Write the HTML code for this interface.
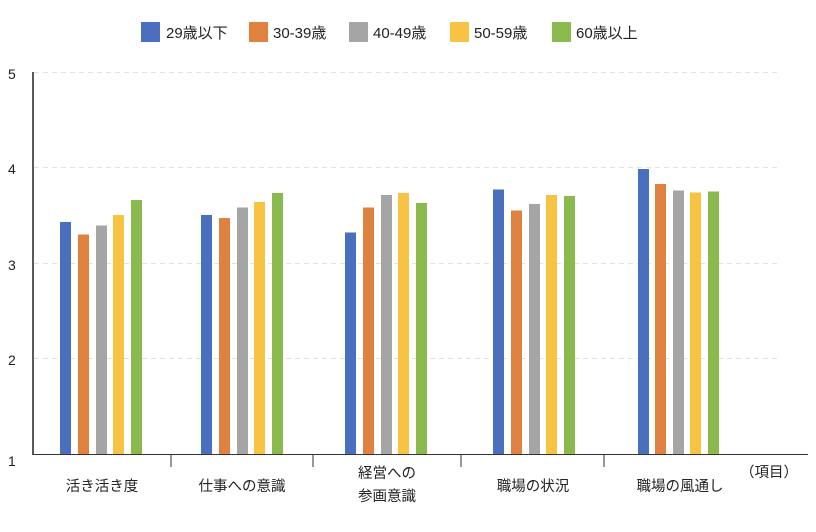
<!DOCTYPE html>
<html><head><meta charset="utf-8"><style>
body{margin:0;background:#fff;}
svg text{font-family:"Liberation Sans","Noto Sans CJK JP",sans-serif;fill:#222;}
</style></head><body>
<svg width="816" height="527" viewBox="0 0 816 527" xmlns="http://www.w3.org/2000/svg">
<g stroke="#dde3e3" stroke-dasharray="5,4" stroke-width="1">
<line x1="34" y1="72.5" x2="780" y2="72.5"/>
<line x1="34" y1="167.5" x2="780" y2="167.5"/>
<line x1="34" y1="263.5" x2="780" y2="263.5"/>
<line x1="34" y1="358.5" x2="780" y2="358.5"/>
</g>
<g font-size="14">
<text x="8" y="79">5</text><text x="8" y="174">4</text><text x="8" y="270">3</text><text x="8" y="365">2</text><text x="8" y="466">1</text>
</g>
<g id="bars">
<!-- g1 -->
<rect x="60" y="222" width="11" height="232" fill="#4a6fbe"/>
<rect x="78" y="234.5" width="11" height="219.5" fill="#e0823f"/>
<rect x="96" y="225.5" width="11" height="228.5" fill="#a5a5a5"/>
<rect x="113" y="215" width="11" height="239" fill="#f6c342"/>
<rect x="131" y="200" width="11" height="254" fill="#8ab94e"/>
<!-- g2 -->
<rect x="201" y="215" width="11" height="239" fill="#4a6fbe"/>
<rect x="219" y="218" width="11" height="236" fill="#e0823f"/>
<rect x="237" y="207.5" width="11" height="246.5" fill="#a5a5a5"/>
<rect x="254" y="202" width="11" height="252" fill="#f6c342"/>
<rect x="272" y="193" width="11" height="261" fill="#8ab94e"/>
<!-- g3 -->
<rect x="345" y="232.5" width="11" height="221.5" fill="#4a6fbe"/>
<rect x="363" y="207.5" width="11" height="246.5" fill="#e0823f"/>
<rect x="381" y="195" width="11" height="259" fill="#a5a5a5"/>
<rect x="398" y="193" width="11" height="261" fill="#f6c342"/>
<rect x="416" y="203" width="11" height="251" fill="#8ab94e"/>
<!-- g4 -->
<rect x="493" y="189.5" width="11" height="264.5" fill="#4a6fbe"/>
<rect x="511" y="210.5" width="11" height="243.5" fill="#e0823f"/>
<rect x="529" y="204" width="11" height="250" fill="#a5a5a5"/>
<rect x="546" y="195" width="11" height="259" fill="#f6c342"/>
<rect x="564" y="196" width="11" height="258" fill="#8ab94e"/>
<!-- g5 -->
<rect x="638" y="169" width="11" height="285" fill="#4a6fbe"/>
<rect x="655" y="184" width="11" height="270" fill="#e0823f"/>
<rect x="673" y="190.5" width="11" height="263.5" fill="#a5a5a5"/>
<rect x="690" y="192.5" width="11" height="261.5" fill="#f6c342"/>
<rect x="708" y="191.5" width="11" height="262.5" fill="#8ab94e"/>
</g>
<line x1="33" y1="72" x2="33" y2="455" stroke="#222" stroke-width="1.5"/>
<line x1="33" y1="454.5" x2="808" y2="454.5" stroke="#333" stroke-width="1"/>
<g stroke="#333">
<line x1="171" y1="454" x2="171" y2="467"/><line x1="313" y1="454" x2="313" y2="467"/>
<line x1="461" y1="454" x2="461" y2="467"/><line x1="604" y1="454" x2="604" y2="467"/>
</g>
<g font-size="14.5" text-anchor="middle">
<text x="102" y="491">活き活き度</text>
<text x="242" y="491">仕事への意識</text>
<text x="387" y="478">経営への</text>
<text x="387" y="501">参画意識</text>
<text x="533" y="491">職場の状況</text>
<text x="680" y="491">職場の風通し</text>
<text x="769" y="477">（項目）</text>
</g>
<g font-size="15">
<rect x="141" y="22" width="19" height="20" fill="#4a6fbe"/><text x="166" y="38">29歳以下</text>
<rect x="249" y="22" width="19" height="20" fill="#e0823f"/><text x="273" y="38">30-39歳</text>
<rect x="349" y="22" width="19" height="20" fill="#a5a5a5"/><text x="373" y="38">40-49歳</text>
<rect x="450" y="22" width="19" height="20" fill="#f6c342"/><text x="474" y="38">50-59歳</text>
<rect x="552" y="22" width="19" height="20" fill="#8ab94e"/><text x="576" y="38">60歳以上</text>
</g>
</svg>
</body></html>
